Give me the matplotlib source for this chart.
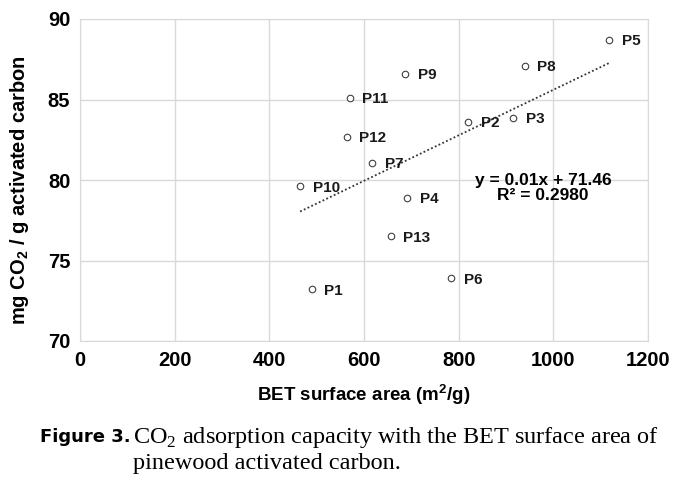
import numpy as np
import matplotlib
matplotlib.use('Agg')
import matplotlib.pyplot as plt

plt.rcParams['font.family'] = 'Liberation Sans'
plt.rcParams['mathtext.fontset'] = 'custom'
plt.rcParams['mathtext.rm'] = 'Liberation Serif'
plt.rcParams['mathtext.bf'] = 'Liberation Sans:bold'

names = ['P1', 'P2', 'P3', 'P4', 'P5', 'P6', 'P7', 'P8', 'P9', 'P10', 'P11', 'P12', 'P13']
bet = [490, 820, 915, 691, 1118, 784, 617, 940, 687, 465, 570, 564, 657]
co2 = [73.2, 83.6, 83.85, 78.9, 88.7, 73.9, 81.05, 87.1, 86.6, 79.6, 85.1, 82.7, 76.5]
xticks = [0, 200, 400, 600, 800, 1000, 1200]
yticks = [70, 75, 80, 85, 90]

fig = plt.figure(figsize=(6.87, 4.92), dpi=100)
ax = fig.add_axes([80/687, 1-341/492, 568/687, 322/492])

ax.scatter(bet, co2, s=22, facecolors='white', edgecolors='#404040', linewidths=0.8, zorder=3)
for n, x, y in zip(names, bet, co2):
    ax.annotate(n, (x, y), xytext=(9, -1), textcoords='offset points',
                va='center', ha='left', fontsize=11, fontweight='bold', color='#1a1a1a')

# linear trend line over the data range
k, b = np.polyfit(bet, co2, 1)
xs = np.array([min(bet), max(bet)])
ax.plot(xs, k*xs + b, ls=(0, (1, 1.3)), color='#333333', lw=1.3, zorder=2)
ax.text(0.815, 0.475, 'y = 0.01x + 71.46\nR² = 0.2980', transform=ax.transAxes,
        ha='center', va='center', fontsize=12.5, fontweight='bold', linespacing=0.95)

ax.set_xlim(0, 1200)
ax.set_ylim(70, 90)
ax.set_xticks(xticks)
ax.set_yticks(yticks)
ax.grid(True, color='#d9d9d9', lw=1)
ax.set_axisbelow(True)
for s in ax.spines.values():
    s.set_color('#d9d9d9')
ax.tick_params(length=0, labelsize=14.5, pad=7)
for lab in ax.get_xticklabels() + ax.get_yticklabels():
    lab.set_fontweight('bold')
ax.set_xlabel('BET surface area (m$^\\mathbf{2}$/g)', fontsize=13.5, fontweight='bold', labelpad=9)
ax.set_ylabel('mg CO$_\\mathbf{2}$ / g activated carbon', fontsize=14.5, fontweight='bold', labelpad=5)
ax.yaxis.set_label_coords(-0.087, 0.47)

fig.text(40/687, 1-437/492, 'Figure 3.', fontsize=13, fontweight='bold', va='center', ha='left',
         family='DejaVu Sans')
fig.text(133/687, 1-437/492, 'CO$_\\mathrm{2}$ adsorption capacity with the BET surface area of',
         fontsize=17.5, family='Liberation Serif', va='center', ha='left')
fig.text(133/687, 1-463/492, 'pinewood activated carbon.',
         fontsize=17.5, family='Liberation Serif', va='center', ha='left')

fig.savefig('out.png', dpi=100)
